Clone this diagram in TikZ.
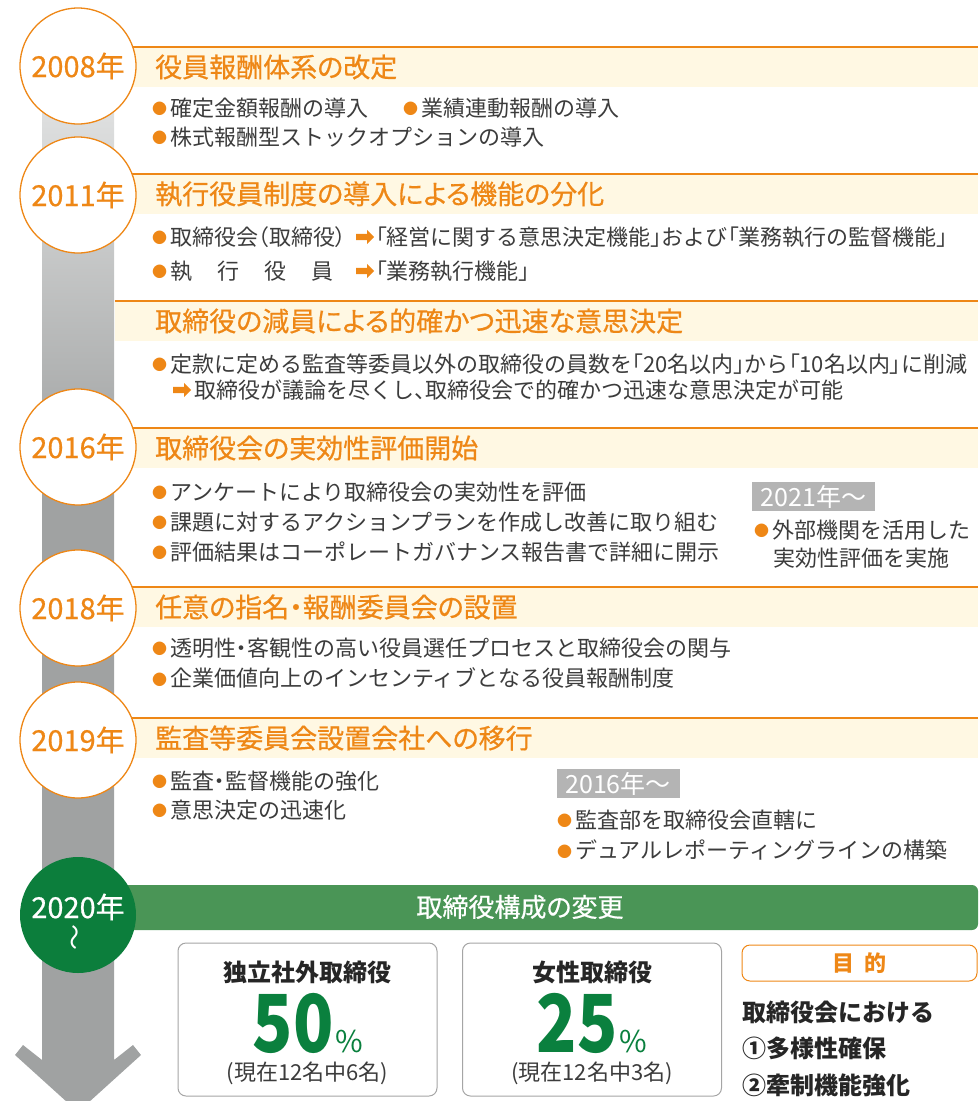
\documentclass[tikz,border=0pt]{standalone}
\usepackage{fontspec}
\setmainfont{Noto Sans CJK JP}
\newfontfamily\pfont{Noto Sans CJK JP}[RawFeature=+palt]
\newfontfamily\medfont{Noto Sans CJK JP}[RawFeature=+palt, FakeBold=0.6]
\usepackage{graphicx}
\usetikzlibrary{positioning, shapes.arrows}

\definecolor{tlorange}{RGB}{238,135,22}
\definecolor{tlcream}{RGB}{255,248,227}
\definecolor{tltext}{RGB}{60,60,60}
\definecolor{tlgray}{RGB}{160,162,162}
\definecolor{tlgrayl}{RGB}{230,231,231}
\definecolor{tltag}{RGB}{180,180,180}
\definecolor{tlgreen}{RGB}{74,149,86}
\definecolor{tldkgreen}{RGB}{12,126,60}
\definecolor{tlnum}{RGB}{10,128,62}
\definecolor{tlbox}{RGB}{165,165,165}

\newcommand{\bul}{\raisebox{1.5pt}{\textcolor{tlorange}{\fontsize{15}{15}\selectfont ●}}\hspace{3pt}}
\newcommand{\lbk}{{\pfont 「}}
\newcommand{\rbk}{{\pfont 」}}
\newcommand{\ndot}{{\pfont ・}}
\newcommand{\bignum}[1]{\scalebox{0.83}[1]{\bfseries\fontsize{80}{80}\selectfont #1}\hspace{2pt}{\fontsize{30}{30}\selectfont\%}}

\begin{document}
\begin{tikzpicture}[x=1pt,y=-1pt,
    every node/.style={inner sep=0pt, text=tltext, font=\fontsize{22}{26}\selectfont},
    itm/.style={anchor=west},
    arrw/.style={single arrow, fill=tlorange, anchor=west, inner xsep=0pt, inner ysep=3pt, minimum height=18pt, single arrow head extend=4pt},
    hdr/.style={anchor=west, text=tlorange, font=\medfont\fontsize{27}{30}\selectfont},
    yearc/.style={circle, draw=tlorange, line width=1.3pt, fill=white, minimum size=116pt, text=tlorange, font=\medfont\fontsize{29}{30}\selectfont},
    yeartag/.style={fill=tltag, text=white, minimum width=123pt, minimum height=29pt, font=\fontsize{25}{26}\selectfont},
    ratebox/.style={draw=tlbox, line width=1pt, rounded corners=8pt, fill=white, minimum width=259pt, minimum height=153pt},
    boxhead/.style={font=\bfseries\fontsize{24}{26}\selectfont, text=black!85},
    goaltxt/.style={anchor=west, font=\bfseries\fontsize{24}{26}\selectfont, text=black!85}]
    \useasboundingbox (0,0) rectangle (978,1101);
    \clip (0,0) rectangle (978,1101);

    % timeline arrow
    \fill[tlgray] (42,470) -- (42,1060) -- (23,1045) -- (15,1055) -- (78,1112) -- (141,1055) -- (133,1045) -- (114,1060) -- (114,470) -- cycle;
    \shade[top color=tlgrayl, bottom color=tlgray] (42,66) rectangle (114,472);

    % header bands
    \foreach \t in {47,174,301,428,587,718} {
        \fill[tlcream] (115,\t) rectangle (978,\t+40);
        \draw[tlorange, line width=1.2pt] (115,\t) -- (978,\t);
    }
    \fill[tlgreen, rounded corners=6pt] (110,885) rectangle (978,930);

    % year circles
    \node[yearc] (y2008) at (78,66) {2008年};
    \node[yearc] (y2011) at (78,195) {2011年};
    \node[yearc] (y2016) at (78,447) {2016年};
    \node[yearc] (y2018) at (78,608) {2018年};
    \node[yearc] (y2019) at (78,740) {2019年};
    \node[yearc, draw=none, fill=tldkgreen] (y2020) at (78,915) {};
    \node[text=white, font=\medfont\fontsize{29}{30}\selectfont] (y2020a) at (78,907) {2020年};
    \node[text=white, rotate=90, font=\fontsize{26}{26}\selectfont] (y2020b) at (78,937) {～};

    % 2008
    \node[hdr] (h2008) at (155,67) {役員報酬体系の改定};
    \node[itm] (a1) at (152,108) {\bul 確定金額報酬の導入};
    \node[itm] (a2) at (403,108) {\bul 業績連動報酬の導入};
    \node[itm] (a3) at (152,137) {\bul 株式報酬型ストックオプションの導入};

    % 2011
    \node[hdr] (h2011) at (155,194) {執行役員制度の導入による機能の分化};
    \node[itm] (b1) at (152,237) {\bul 取締役会{\pfont （}取締役{\pfont ）}};
    \node[arrw] (b1arr) at (356,237) {};
    \node[itm, right=1pt of b1arr] (b1t) {\lbk 経営に関する意思決定機能\rbk および\lbk 業務執行の監督機能\rbk};
    \node[itm] (b2) at (152,271) {\bul 執\hspace{25pt}行\hspace{25pt}役\hspace{25pt}員};
    \node[arrw] (b2arr) at (356,271) {};
    \node[itm, right=1pt of b2arr] (b2t) {\lbk 業務執行機能\rbk};

    % reduction
    \node[hdr] (hcut) at (155,321) {取締役の減員による的確かつ迅速な意思決定};
    \node[itm] (c1) at (152,364) {\bul 定款に定める監査等委員以外の取締役の員数を\lbk 20名以内\rbk から\lbk 10名以内\rbk に削減};
    \node[arrw] (c2arr) at (173,390) {};
    \node[itm, right=3pt of c2arr] (c2t) {取締役が議論を尽くし{\pfont 、}取締役会で的確かつ迅速な意思決定が可能};

    % 2016
    \node[hdr] (h2016) at (155,448) {取締役会の実効性評価開始};
    \node[itm] (d1) at (152,492) {\bul アンケートにより取締役会の実効性を評価};
    \node[itm] (d2) at (152,522) {\bul 課題に対するアクションプランを作成し改善に取り組む};
    \node[itm] (d3) at (152,552) {\bul 評価結果はコーポレートガバナンス報告書で詳細に開示};
    \node[yeartag] (t2021) at (813.5,496.5) {2021年～};
    \node[itm] (d4) at (754,530) {\bul 外部機関を活用した};
    \node[itm] (d5) at (773,558) {実効性評価を実施};

    % 2018
    \node[hdr] (h2018) at (155,607) {任意の指名・報酬委員会の設置};
    \node[itm] (e1) at (152,648) {\bul 透明性\ndot 客観性の高い役員選任プロセスと取締役会の関与};
    \node[itm] (e2) at (152,678) {\bul 企業価値向上のインセンティブとなる役員報酬制度};

    % 2019
    \node[hdr] (h2019) at (155,738) {監査等委員会設置会社への移行};
    \node[itm] (f1) at (152,781) {\bul 監査\ndot 監督機能の強化};
    \node[itm] (f2) at (152,810) {\bul 意思決定の迅速化};
    \node[yeartag] (t2016) at (618,783.5) {2016年～};
    \node[itm] (f3) at (557,820) {\bul 監査部を取締役会直轄に};
    \node[itm] (f4) at (557,850) {\bul デュアルレポーティングラインの構築};

    % 2020
    \node[text=white, font=\medfont\fontsize{26}{28}\selectfont] (h2020) at (520,907) {取締役構成の変更};
    \node[ratebox] (r1) at (307.5,1019.5) {};
    \node[boxhead] (r1h) at (307.5,972) {独立社外取締役};
    \node[text=tlnum] (r1n) at (308,1023) {\bignum{50}};
    \node (r1s) at (307.5,1073) {(現在12名中6名)};
    \node[ratebox] (r2) at (592,1019.5) {};
    \node[boxhead] (r2h) at (592,972) {女性取締役};
    \node[text=tlnum] (r2n) at (592,1023) {\bignum{25}};
    \node (r2s) at (592,1073) {(現在12名中3名)};
    \node[draw=tlorange, line width=1pt, rounded corners=8pt, minimum width=235pt, minimum height=36pt, text=tlorange, font=\bfseries\fontsize{22}{24}\selectfont] (goal) at (859.5,963) {目\hspace{10pt}的};
    \node[goaltxt] (g1) at (742,1012) {取締役会における};
    \node[goaltxt] (g2) at (742,1048) {①多様性確保};
    \node[goaltxt] (g3) at (742,1085) {②牽制機能強化};
\end{tikzpicture}
\end{document}
